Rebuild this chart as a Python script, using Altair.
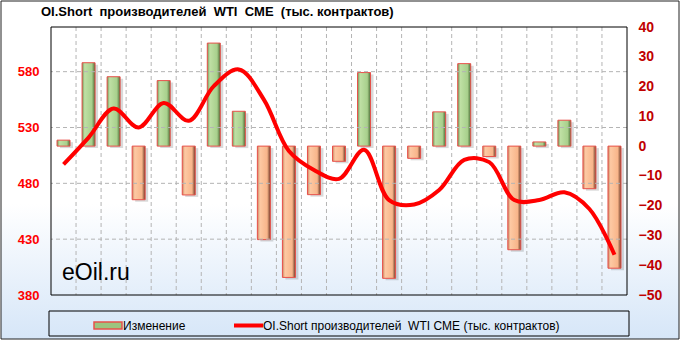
import altair as alt
import pandas as pd

dates = ["20.03.2018", "27.03.2018", "03.04.2018", "10.04.2018", "17.04.2018", "24.04.2018",
         "01.05.2018", "08.05.2018", "15.05.2018", "22.05.2018", "29.05.2018", "05.06.2018",
         "12.06.2018", "19.06.2018", "26.06.2018", "03.07.2018", "10.07.2018", "17.07.2018",
         "24.07.2018", "31.07.2018", "07.08.2018", "14.08.2018", "21.08.2018"]
change = [2, 28, 23.3, -18, 22, -16.4, 34.6, 11.7, -31.4, -44.1, -16.3, -5.1,
          24.7, -44.4, -4.1, 11.5, 27.7, -3.5, -34.8, 1.4, 8.7, -14.3, -41]
oi_short = [497, 521, 547, 530, 552, 536, 567, 582, 555, 509, 492, 484,
            510, 465, 461, 474, 501, 499, 465, 465, 472, 457, 416]
left_ticks = [380, 430, 480, 530, 580]
right_ticks = [-50, -40, -30, -20, -10, 0, 10, 20, 30, 40]
label_dates = dates[::2]

NB = "\u00a0"
title_text = f"OI.Short {NB}производителей {NB}WTI {NB}CME {NB}(тыс. контрактов)"
legend_bar = "Изменение"
legend_line = f"OI.Short производителей {NB}WTI CME (тыс. контрактов)"

W, H = 576, 268
FONT = "Liberation Sans"

df = pd.DataFrame({"date": dates, "change": change, "oi": oi_short})
grid_x = pd.DataFrame({"date": dates[1:]})
grid_y = pd.DataFrame({"v": left_ticks[1:]})
one = pd.DataFrame({"a": [0]})

xscale = alt.Scale(domain=dates, paddingInner=0, paddingOuter=0)

def grad_h(stops):
    return alt.Gradient(gradient="linear", x1=0, x2=1, y1=0, y2=0,
                        stops=[alt.GradientStop(color=c, offset=o) for o, c in stops])

green = grad_h([(0, "#6f9455"), (0.2, "#bfe0a4"), (0.75, "#a8d08c"), (1, "#4b6a35")])
orange = grad_h([(0, "#c98460"), (0.2, "#fdc9a3"), (0.75, "#f8b58a"), (1, "#6b3a27")])

bg_grad = alt.Gradient(gradient="linear", x1=0, x2=0, y1=0, y2=1,
                       stops=[alt.GradientStop(color="#ffffff", offset=0),
                              alt.GradientStop(color="#ffffff", offset=0.6),
                              alt.GradientStop(color="#d6e6f8", offset=1)])

bg = alt.Chart(one).mark_rect(fill=bg_grad, stroke="#222", strokeWidth=1).encode(
    x=alt.value(-50), x2=alt.value(628), y=alt.value(-26), y2=alt.value(312))

vgrid = alt.Chart(grid_x).mark_rule(color="#b4b4b4", strokeDash=[4, 3], strokeWidth=1).encode(
    x=alt.X("date:N", bandPosition=0, scale=xscale, sort=None, axis=None))

xaxis = alt.Axis(values=label_dates, labelAngle=0, labelFontSize=9, labelFontWeight="bold",
                 labelFont=FONT, labelColor="#000", labelPadding=4, ticks=False, domain=False,
                 grid=False, labelOverlap=False, title=None, zindex=5)

right_axis = alt.Axis(orient="right", values=right_ticks, labelColor="#c00000", labelFontSize=14,
                      labelFontWeight="bold", labelFont=FONT, labelPadding=11, ticks=False,
                      domain=False, grid=False, title=None, zindex=5)
left_axis = alt.Axis(orient="left", values=left_ticks, labelColor="#ff0000", labelFontSize=13,
                     labelFontWeight="bold", labelFont=FONT, labelPadding=12, ticks=False,
                     domain=False, grid=False, title=None, zindex=5)

yright = alt.Y("change:Q", scale=alt.Scale(domain=[-50, 40], nice=False), axis=right_axis)

bars_base = alt.Chart(df)
shadow = bars_base.mark_bar(size=13, xOffset=3, yOffset=2, fill="#000", opacity=0.15).encode(
    x=alt.X("date:N", scale=xscale, sort=None, axis=xaxis), y=yright)
pos = bars_base.transform_filter("datum.change >= 0").mark_bar(
    size=13, fill=green, stroke="#e8504a", strokeWidth=1).encode(
    x=alt.X("date:N", scale=xscale, sort=None, axis=xaxis), y=yright)
neg = bars_base.transform_filter("datum.change < 0").mark_bar(
    size=13, fill=orange, stroke="#e8504a", strokeWidth=1).encode(
    x=alt.X("date:N", scale=xscale, sort=None, axis=xaxis), y=yright)
bars = alt.layer(shadow, pos, neg)

yleft_scale = alt.Scale(domain=[380, 620], nice=False, zero=False)
hgrid = alt.Chart(grid_y).mark_rule(color="#b4b4b4", strokeDash=[4, 3], strokeWidth=1).encode(
    y=alt.Y("v:Q", scale=yleft_scale, axis=left_axis))
line = alt.Chart(df).mark_line(color="#ff0000", strokeWidth=4, interpolate="catmull-rom").encode(
    x=alt.X("date:N", scale=xscale, sort=None, axis=xaxis),
    y=alt.Y("oi:Q", scale=yleft_scale, axis=left_axis))
left_layer = alt.layer(hgrid, line)

frame = alt.Chart(one).mark_rect(fill=None, stroke="#000", strokeWidth=1).encode(
    x=alt.value(0), x2=alt.value(W), y=alt.value(0), y2=alt.value(H))

title = alt.Chart(one).mark_text(text=title_text, align="left", baseline="middle", font=FONT,
                                 fontSize=13, fontWeight="bold", color="#000").encode(
    x=alt.value(-10), y=alt.value(-15))
watermark = alt.Chart(one).mark_text(text="eOil.ru", align="left", baseline="middle", font=FONT,
                                     fontSize=23, color="#000").encode(
    x=alt.value(11), y=alt.value(246))

leg_box = alt.Chart(one).mark_rect(fill=None, stroke="#000", strokeWidth=1).encode(
    x=alt.value(-2), x2=alt.value(578), y=alt.value(284), y2=alt.value(309))
leg_sw = alt.Chart(one).mark_rect(fill="#9cc47f", stroke="#e8504a", strokeWidth=1.5).encode(
    x=alt.value(43), x2=alt.value(71), y=alt.value(295), y2=alt.value(302))
leg_t1 = alt.Chart(one).mark_text(text=legend_bar, align="left", baseline="middle", font=FONT,
                                  fontSize=12, color="#000").encode(x=alt.value(72), y=alt.value(298.5))
leg_ln = alt.Chart(one).mark_rule(color="#ff0000", strokeWidth=4).encode(
    x=alt.value(183), x2=alt.value(212), y=alt.value(298.5))
leg_t2 = alt.Chart(one).mark_text(text=legend_line, align="left", baseline="middle", font=FONT,
                                  fontSize=12, color="#000").encode(x=alt.value(212), y=alt.value(298.5))

chart = alt.layer(bg, vgrid, bars, left_layer, frame, title, watermark,
                  leg_box, leg_sw, leg_t1, leg_ln, leg_t2).resolve_scale(y="independent").properties(
    width=W, height=H,
    autosize=alt.AutoSizeParams(type="none"),
    padding={"left": 51, "top": 27, "right": 54, "bottom": 46},
    background="#ffffff",
).configure_view(stroke=None)

chart.save("out.html", embed_options={"renderer": "svg", "actions": False})
